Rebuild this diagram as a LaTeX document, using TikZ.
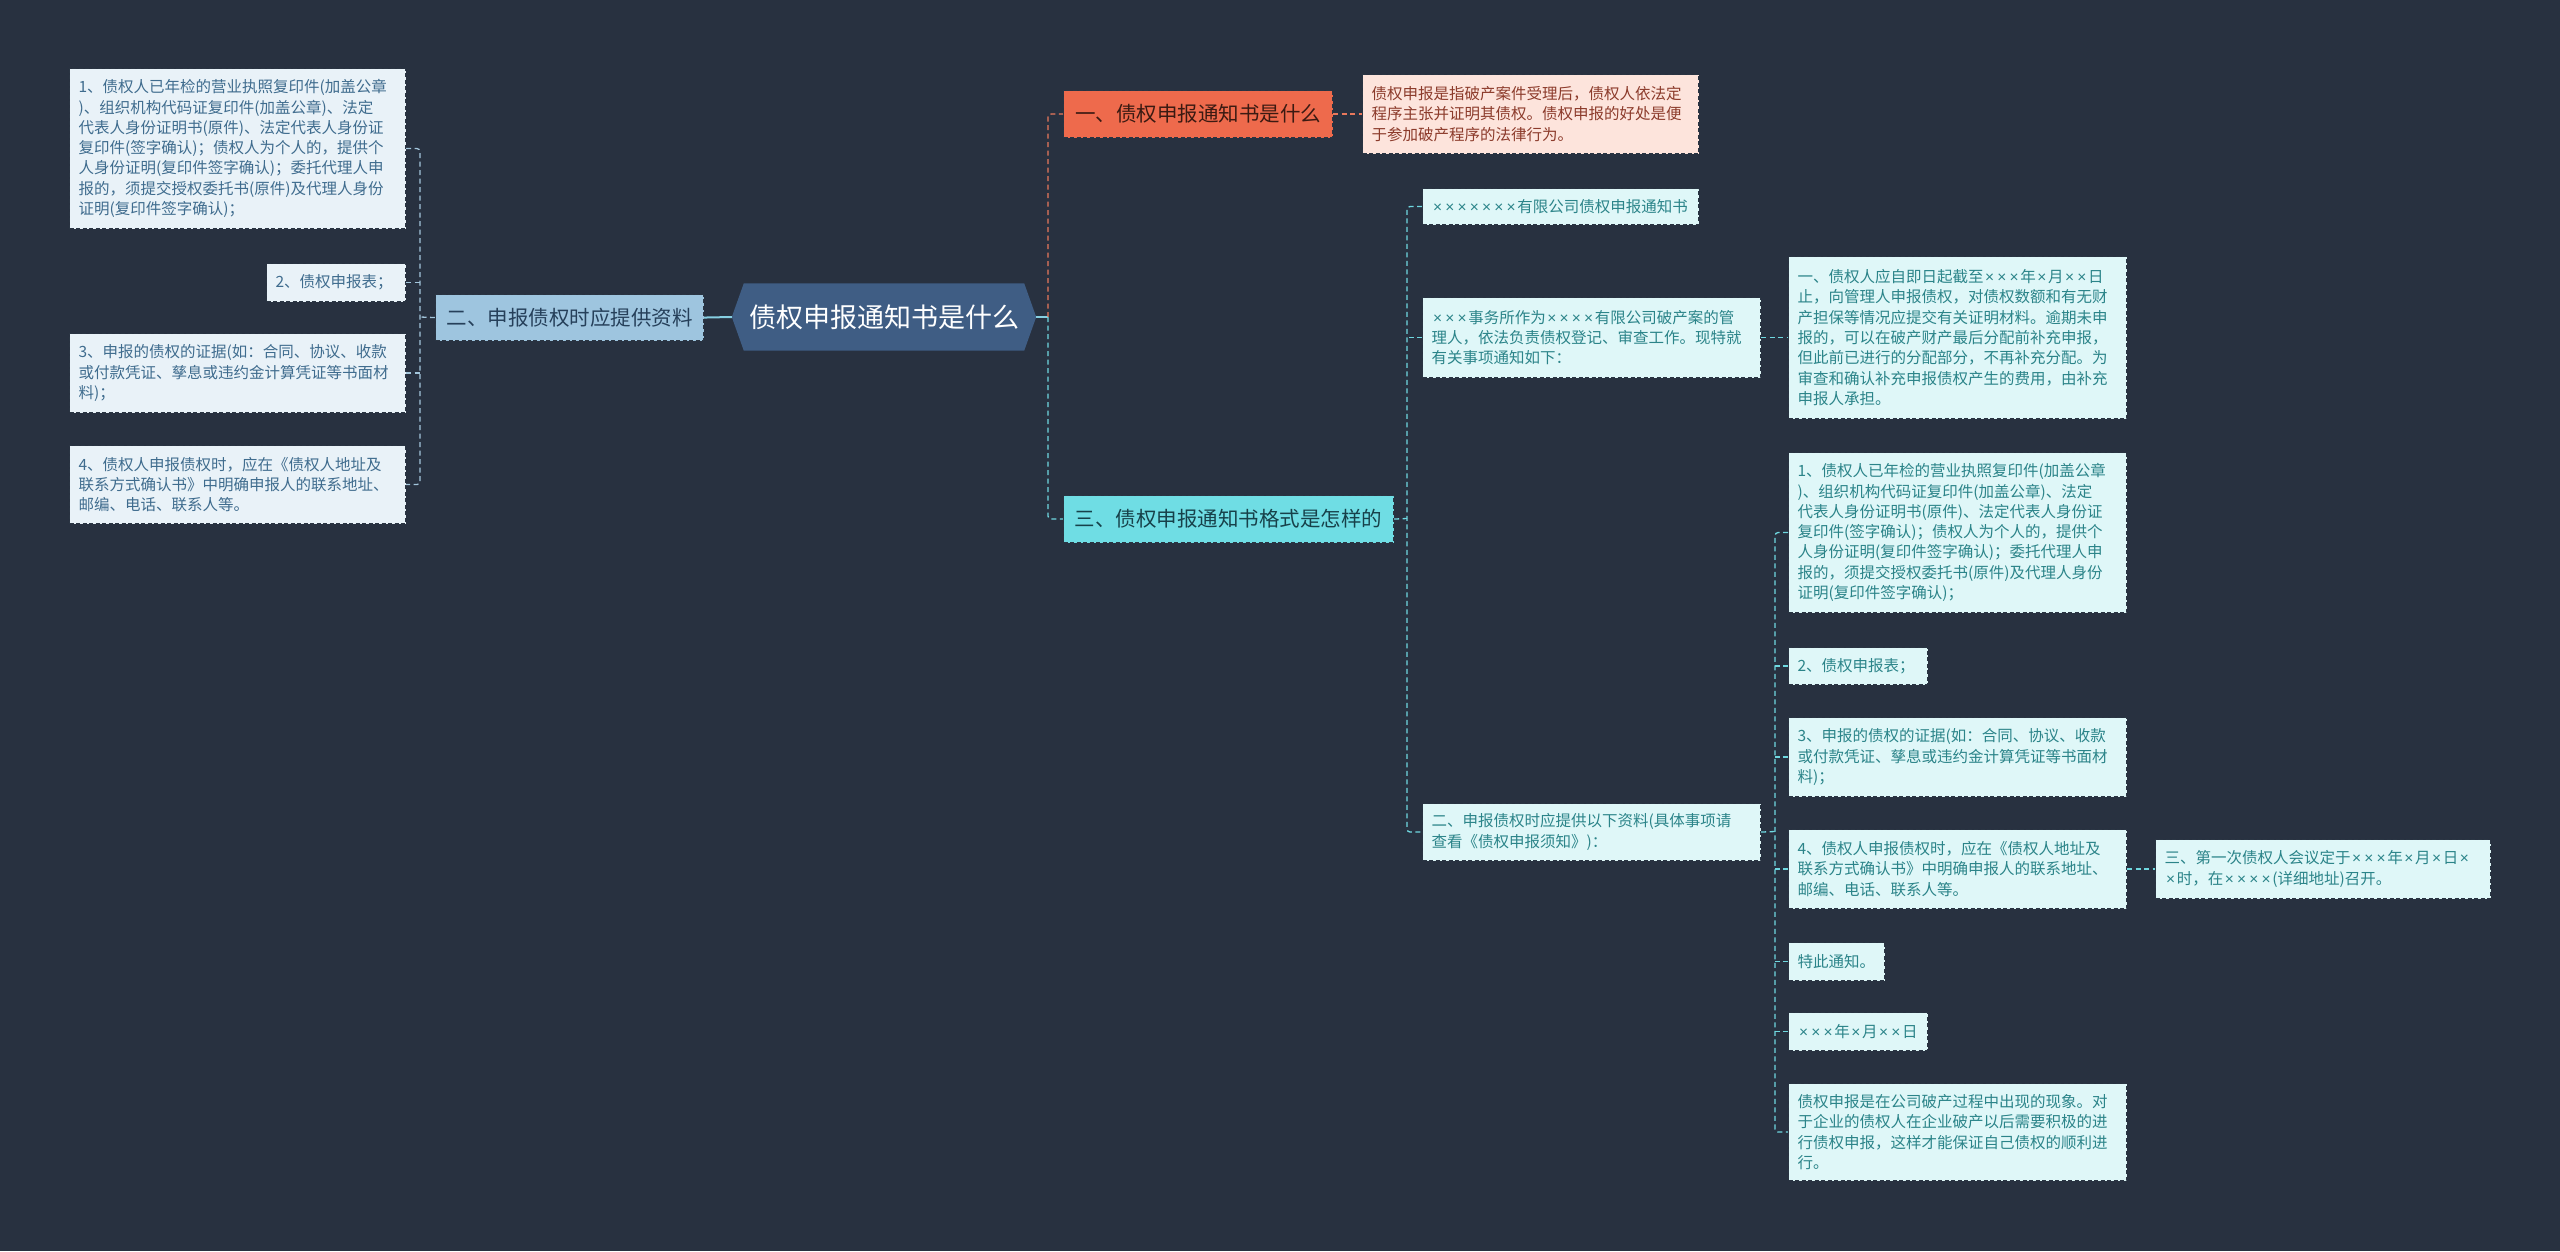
\documentclass[tikz,border=0pt]{standalone}
\usepackage{fontspec}
\setmainfont{Noto Sans CJK SC}
\newfontfamily\xfont{Liberation Sans}
\newcommand\xx{\makebox[0.79em]{\xfont ×}}
\usetikzlibrary{backgrounds}
\definecolor{bgc}{HTML}{283140}
\definecolor{bordc}{HTML}{2A3543}
\definecolor{rootfill}{HTML}{3F5D84}
\definecolor{nonefill}{HTML}{EE6A4C}
\definecolor{nonetext}{HTML}{3B1A12}
\definecolor{dfill}{HTML}{FDE4DC}
\definecolor{dtext}{HTML}{8C3B2B}
\definecolor{ntwofill}{HTML}{9EC5DF}
\definecolor{ntwotext}{HTML}{26405A}
\definecolor{lfill}{HTML}{E9F2F8}
\definecolor{ltext}{HTML}{3F6C8E}
\definecolor{nthreefill}{HTML}{6FDDE4}
\definecolor{nthreetext}{HTML}{17414A}
\definecolor{rfill}{HTML}{DFF7F8}
\definecolor{rtext}{HTML}{2B8489}
\definecolor{lline}{HTML}{A3C6DC}
\definecolor{cline}{HTML}{6FD8E0}
\definecolor{oline}{HTML}{E9785C}
\definecolor{rootline}{HTML}{86CFE2}
\newcommand\bx[7]{\node[#2, text width=#5pt, minimum height=#6pt] (#1) at (#3,#4) {#7};}
\newcommand\mb[7]{\node[#2, minimum width=#5pt, minimum height=#6pt] (#1) at (#3,#4) {#7};}
\begin{document}
\begin{tikzpicture}[x=1pt,y=-1pt,
  box/.style={draw=bordc, dash pattern=on 4pt off 2.5pt, line width=1.1pt, anchor=north west, inner xsep=9pt, inner ysep=2pt, align=left, font=\fontsize{15.5}{20.3}\selectfont},
  lbox/.style={box, fill=lfill, text=ltext},
  rbox/.style={box, fill=rfill, text=rtext},
  dbox/.style={box, fill=dfill, text=dtext},
  mbox/.style={box, font=\fontsize{20.5}{24}\selectfont, inner xsep=0pt, align=center},
  conn/.style={line width=1.3pt, dash pattern=on 5pt off 3.5pt, rounded corners=3pt},
  lconn/.style={conn, draw=lline},
  cconn/.style={conn, draw=cline},
  oconn/.style={conn, draw=oline},
  rconn/.style={line width=2pt, draw=rootline}]
\useasboundingbox (0,0) rectangle (2560,1251);

% root
\node[font=\fontsize{27}{32}\selectfont, text=white, minimum width=304pt, minimum height=67pt, inner sep=0pt] (root) at (884,317) {债权申报通知书是什么};

% left branch
\bx{L1}{lbox}{69}{68}{318}{160}{1、债权人已年检的营业执照复印件(加盖公章\\)、组织机构代码证复印件(加盖公章)、法定\\代表人身份证明书(原件)、法定代表人身份证\\复印件(签字确认)；债权人为个人的，提供个\\人身份证明(复印件签字确认)；委托代理人申\\报的，须提交授权委托书(原件)及代理人身份\\证明(复印件签字确认)；}
\bx{L2}{lbox}{266}{263}{121}{38}{2、债权申报表；}
\bx{L3}{lbox}{69}{333}{318}{79}{3、申报的债权的证据(如：合同、协议、收款\\或付款凭证、孳息或违约金计算凭证等书面材\\料)；}
\bx{L4}{lbox}{69}{445}{318}{78}{4、债权人申报债权时，应在《债权人地址及\\联系方式确认书》中明确申报人的联系地址、\\邮编、电话、联系人等。}
\mb{n2}{mbox, fill=ntwofill, text=ntwotext}{435}{294}{268}{46}{二、申报债权时应提供资料}

% branch one
\mb{n1}{mbox, fill=nonefill, text=nonetext}{1063}{90}{269}{47}{一、债权申报通知书是什么}
\bx{D1}{dbox}{1362}{74}{318}{79}{债权申报是指破产案件受理后，债权人依法定\\程序主张并证明其债权。债权申报的好处是便\\于参加破产程序的法律行为。}

% branch three
\mb{n3}{mbox, fill=nthreefill, text=nthreetext}{1063}{495}{330}{47}{三、债权申报通知书格式是怎样的}
\bx{R1}{rbox}{1422}{188}{258}{36}{\xx{}\xx{}\xx{}\xx{}\xx{}\xx{}\xx{}有限公司债权申报通知书}
\bx{R2}{rbox}{1422}{297}{320}{80}{\xx{}\xx{}\xx{}事务所作为\xx{}\xx{}\xx{}\xx{}有限公司破产案的管\\理人，依法负责债权登记、审查工作。现特就\\有关事项通知如下：}
\bx{R2a}{rbox}{1788}{256}{320}{162}{一、债权人应自即日起截至\xx{}\xx{}\xx{}年\xx{}月\xx{}\xx{}日\\止，向管理人申报债权，对债权数额和有无财\\产担保等情况应提交有关证明材料。逾期未申\\报的，可以在破产财产最后分配前补充申报，\\但此前已进行的分配部分，不再补充分配。为\\审查和确认补充申报债权产生的费用，由补充\\申报人承担。}
\bx{R3}{rbox}{1422}{803}{320}{57}{二、申报债权时应提供以下资料(具体事项请\\查看《债权申报须知》)：}
\bx{R3a}{rbox}{1788}{452}{320}{160}{1、债权人已年检的营业执照复印件(加盖公章\\)、组织机构代码证复印件(加盖公章)、法定\\代表人身份证明书(原件)、法定代表人身份证\\复印件(签字确认)；债权人为个人的，提供个\\人身份证明(复印件签字确认)；委托代理人申\\报的，须提交授权委托书(原件)及代理人身份\\证明(复印件签字确认)；}
\bx{R3b}{rbox}{1788}{647}{121}{37}{2、债权申报表；}
\bx{R3c}{rbox}{1788}{717}{320}{79}{3、申报的债权的证据(如：合同、协议、收款\\或付款凭证、孳息或违约金计算凭证等书面材\\料)；}
\bx{R3d}{rbox}{1788}{829}{320}{79}{4、债权人申报债权时，应在《债权人地址及\\联系方式确认书》中明确申报人的联系地址、\\邮编、电话、联系人等。}
\bx{R3x}{rbox}{2155}{839}{317}{59}{三、第一次债权人会议定于\xx{}\xx{}\xx{}年\xx{}月\xx{}日\xx{}\\\xx{}时，在\xx{}\xx{}\xx{}\xx{}(详细地址)召开。}
\bx{R3e}{rbox}{1788}{942}{78}{38}{特此通知。}
\bx{R3f}{rbox}{1788}{1012}{121}{38}{\xx{}\xx{}\xx{}年\xx{}月\xx{}\xx{}日}
\bx{R3g}{rbox}{1788}{1083}{320}{97}{债权申报是在公司破产过程中出现的现象。对\\于企业的债权人在企业破产以后需要积极的进\\行债权申报，这样才能保证自己债权的顺利进\\行。}

\coordinate (bl) at (420,317);
\coordinate (tr) at (1048,317);
\coordinate (b3) at (1407,518.5);
\coordinate (b4) at (1775,831.5);

\begin{scope}[on background layer]
\fill[bgc] (0,0) rectangle (2560,1251);
\fill[rootfill] (root.west) -- ([xshift=12pt]root.north west) -- ([xshift=-12pt]root.north east) -- (root.east) -- ([xshift=-12pt]root.south east) -- ([xshift=12pt]root.south west) -- cycle;
\draw[lconn] (L1.east) -| (bl) |- (L4.east);
\draw[lconn] (L2.east) -- (L2.east -| bl);
\draw[lconn] (L3.east) -- (L3.east -| bl);
\draw[lconn] (n2.west) -- (bl);
\draw[rconn] (n2.east) -- (root.west);
\draw[rconn] (root.east) -- (tr);
\draw[oconn] (tr) |- (n1.west);
\draw[cconn] (tr) |- (n3.west);
\draw[oconn] (n1.east) -- (D1.west);
\draw[cconn] (R1.west) -| (b3) |- (R3.west);
\draw[cconn] (R2.west) -- (R2.west -| b3);
\draw[cconn] (n3.east) -- (b3);
\draw[cconn] (R2.east) -- (R2a.west);
\draw[cconn] (R3a.west) -| (b4) |- (R3g.west);
\draw[cconn] (R3b.west) -- (R3b.west -| b4);
\draw[cconn] (R3c.west) -- (R3c.west -| b4);
\draw[cconn] (R3d.west) -- (R3d.west -| b4);
\draw[cconn] (R3e.west) -- (R3e.west -| b4);
\draw[cconn] (R3f.west) -- (R3f.west -| b4);
\draw[cconn] (R3.east) -- (b4);
\draw[cconn] (R3d.east) -- (R3x.west);
\end{scope}
\end{tikzpicture}
\end{document}
